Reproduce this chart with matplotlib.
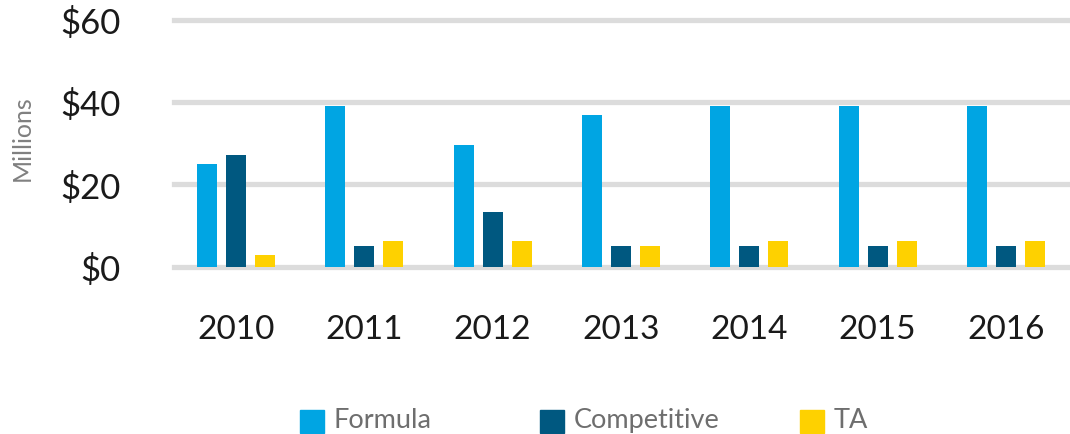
import numpy as np
import matplotlib
matplotlib.use("Agg")
import matplotlib.pyplot as plt
from matplotlib.patches import Rectangle

plt.rcParams['font.family'] = ['Lato', 'DejaVu Sans']

years = ["2010", "2011", "2012", "2013", "2014", "2015", "2016"]
formula = [25.0, 38.9, 29.6, 36.7, 38.9, 38.9, 38.9]
competitive = [27.2, 5.0, 13.3, 5.0, 5.0, 5.0, 5.0]
ta = [2.8, 6.2, 6.2, 5.0, 6.2, 6.2, 6.2]
series = ["Formula", "Competitive", "TA"]
colors = ["#00a5e3", "#005880", "#fed100"]
yticks = [0, 20, 40, 60]

fig = plt.figure(figsize=(10.7, 4.35), dpi=100)
ax = fig.add_axes([0.1607, 0.385, 0.8393, 0.5754])

x = np.arange(len(years))
w = 0.156
off = 0.226
for i, (vals, c) in enumerate(zip([formula, competitive, ta], colors)):
    ax.bar(x + (i - 1) * off, vals, width=w, color=c, zorder=3, label=series[i])

# grid lines
for t in yticks:
    ax.axhline(t, xmin=0.002, color="#dcdcdc", lw=3.8, zorder=1, clip_on=False)

ax.set_xlim(-0.5, len(years) - 0.5)
ax.set_ylim(0, 60.8)
ax.set_yticks(yticks)
ax.set_yticklabels(["$%d" % t for t in yticks])
ax.set_xticks(x)
ax.set_xticklabels(years)
ax.tick_params(axis="y", length=0, pad=37, labelsize=25, labelcolor="#1a1a1a")
ax.tick_params(axis="x", length=0, pad=34, labelsize=24, labelcolor="#1a1a1a")
for s in ax.spines.values():
    s.set_visible(False)

fig.text(22 / 1070, 1 - 138 / 435, "Millions", rotation=90, ha="center", va="center",
         fontsize=18, color="#808080")

# legend
leg_x = [300, 540, 800]
for name, c, lx in zip(series, colors, leg_x):
    fig.add_artist(Rectangle((lx / 1070, 1 - 434 / 435), 24 / 1070, 23 / 435,
                             transform=fig.transFigure, color=c, clip_on=False))
    fig.text((lx + 34) / 1070, 1 - 421 / 435, name, ha="left", va="center",
             fontsize=19.5, color="#6e6e6e")

fig.savefig("out.png", dpi=100)
